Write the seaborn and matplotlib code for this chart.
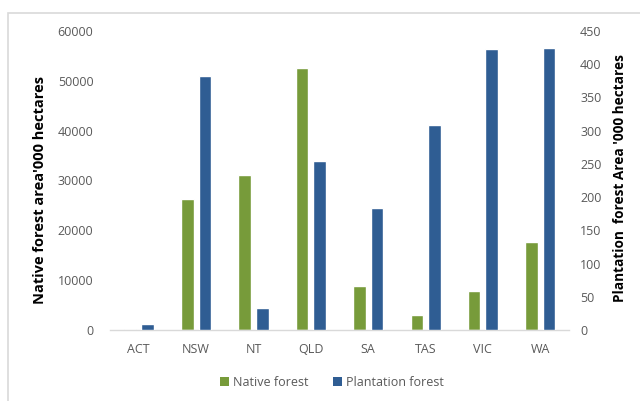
import matplotlib
matplotlib.use("Agg")
import matplotlib.pyplot as plt
import seaborn as sns
import pandas as pd
from matplotlib.patches import Patch, Rectangle

states = ["ACT", "NSW", "NT", "QLD", "SA", "TAS", "VIC", "WA"]
native_forest = [200, 26300, 31000, 52500, 8800, 3000, 7900, 17700]
plantation_forest = [9, 382, 33, 255, 183, 308, 422, 424]
left_ticks = [0, 10000, 20000, 30000, 40000, 50000, 60000]
right_ticks = [0, 50, 100, 150, 200, 250, 300, 350, 400, 450]

sns.set_theme(style="white")
plt.rcParams['font.family'] = ['Open Sans', 'DejaVu Sans']

hue_order = ["Native forest", "Plantation forest"]
palette = {"Native forest": "#779B3A", "Plantation forest": "#2F5D93"}
df_native = pd.DataFrame({"state": states, "value": native_forest, "series": hue_order[0]})
df_plant = pd.DataFrame({"state": states, "value": plantation_forest, "series": hue_order[1]})

fig = plt.figure(figsize=(6.4, 4.01), dpi=100)
ax = fig.add_axes([0.172, 0.177, 0.717, 0.746])
ax2 = ax.twinx()

sns.barplot(data=df_native, x="state", y="value", hue="series", hue_order=hue_order,
            palette=palette, order=states, width=0.61, gap=0.28, saturation=1,
            dodge=True, legend=False, ax=ax)
sns.barplot(data=df_plant, x="state", y="value", hue="series", hue_order=hue_order,
            palette=palette, order=states, width=0.61, gap=0.28, saturation=1,
            dodge=True, legend=False, ax=ax2)

tick_color = "#595959"
ax.set_ylim(0, 60000)
ax.set_yticks(left_ticks)
ax.set_yticklabels([str(t) for t in left_ticks])
ax2.set_ylim(0, 450)
ax2.set_yticks(right_ticks)
ax2.set_yticklabels([str(t) for t in right_ticks])
ax.set_xlim(-0.5, len(states) - 0.5)

for a in (ax, ax2):
    for s in a.spines.values():
        s.set_visible(False)
    a.set_xlabel("")
    a.tick_params(length=0, colors=tick_color, labelsize=9)
ax.spines["bottom"].set_visible(True)
ax.spines["bottom"].set_color("#D9D9D9")
ax.spines["bottom"].set_linewidth(1)
ax.tick_params(axis="y", pad=12)
ax.tick_params(axis="x", pad=9)
ax2.tick_params(axis="y", pad=8)

ax.set_ylabel("Native forest area'000 hectares", fontsize=10.5, fontweight="bold", color="black")
ax.yaxis.set_label_coords(-0.137, 0.468)
ax2.set_ylabel("Plantation  forest Area '000 hectares", fontsize=9.8, fontweight="bold", color="black")
ax2.yaxis.set_label_coords(1.096, 0.508)

handles = [Patch(facecolor=palette[h], edgecolor="none") for h in hue_order]
fig.legend(handles, hue_order, loc="center", bbox_to_anchor=(0.519, 1 - 382 / 401), ncol=2,
           frameon=False, handlelength=0.7, handleheight=0.7, handletextpad=0.3,
           columnspacing=2.0, prop={"size": 9}, labelcolor=tick_color)

fig.add_artist(Rectangle((8 / 640, -0.1), 1.0, 1 - 13 / 401 + 0.1, transform=fig.transFigure,
                         fill=False, edgecolor="#D9D9D9", linewidth=1.2))

fig.savefig("out.png", dpi=100)
